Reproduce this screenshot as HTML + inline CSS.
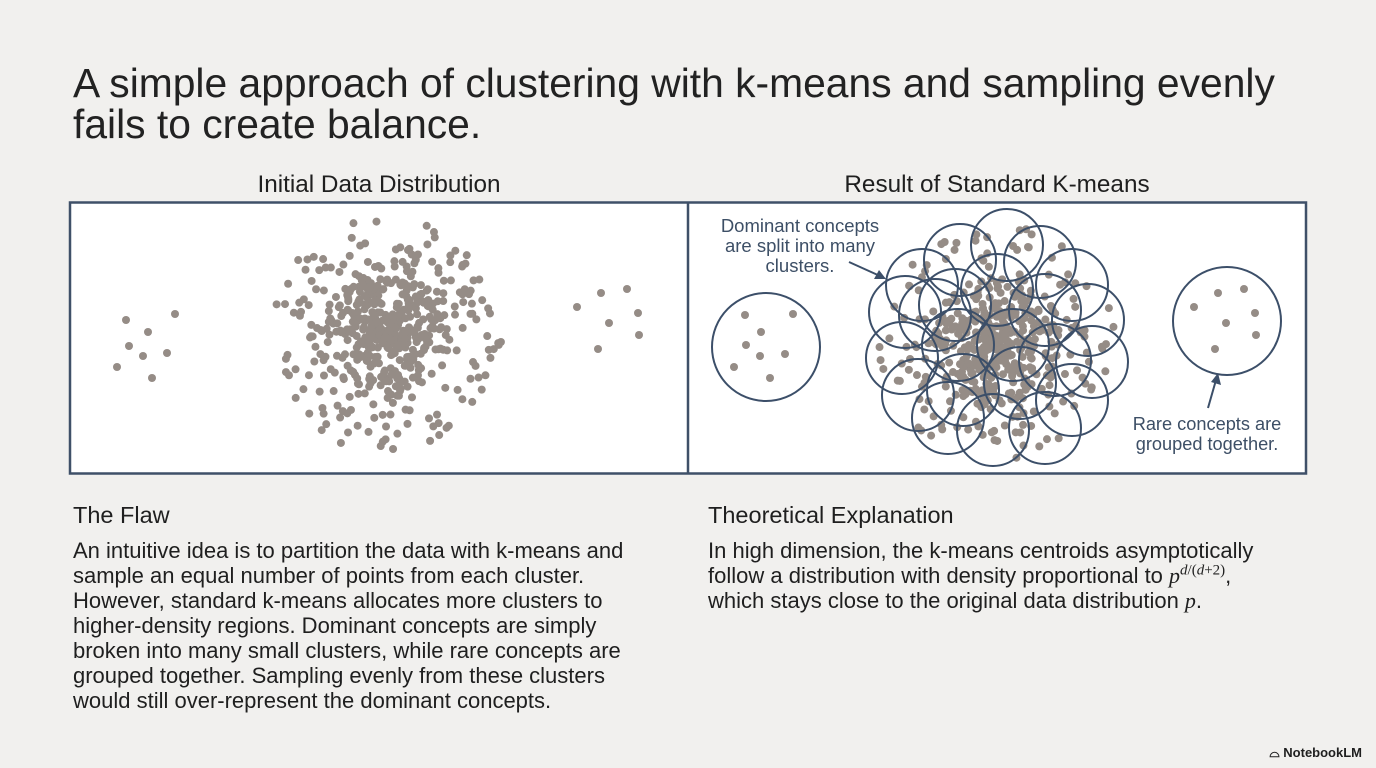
<!DOCTYPE html>
<html><head><meta charset="utf-8"><style>
body{margin:0;width:1376px;height:768px;background:#f1f0ee;font-family:"Liberation Sans",sans-serif;color:#1f1f1f;position:relative;overflow:hidden}
.t{position:absolute;white-space:nowrap}
h1{position:absolute;left:73px;top:63px;margin:0;font-weight:normal;font-size:40.8px;line-height:41px;color:#222}
.b{font-size:22px;line-height:25px}
sup{line-height:0}
</style></head><body>
<h1>A simple approach of clustering with k-means and sampling evenly<br>fails to create balance.</h1>
<div class="t" style="left:70px;width:618px;text-align:center;top:171px;font-size:24.3px">Initial Data Distribution</div>
<div class="t" style="left:688px;width:618px;text-align:center;top:171px;font-size:24.3px">Result of Standard K-means</div>
<svg id="s" style="position:absolute;left:0;top:0" width="1376" height="768">
<rect x="70" y="202.5" width="1236" height="271" fill="#fff" stroke="#3f5068" stroke-width="2.5"/>
<line x1="688" y1="202" x2="688" y2="474" stroke="#3f5068" stroke-width="2.5"/>
<g id="d" fill="#958c86"></g>
<g id="c" fill="none" stroke="#3c4f69" stroke-width="2"></g>
<text x="800" y="232" font-size="18.5" fill="#3d4f66" text-anchor="middle">Dominant concepts</text>
<text x="800" y="252" font-size="18.5" fill="#3d4f66" text-anchor="middle">are split into many</text>
<text x="800" y="272" font-size="18.5" fill="#3d4f66" text-anchor="middle">clusters.</text>
<line x1="849" y1="262" x2="880" y2="276" stroke="#3c4f69" stroke-width="2"/>
<polygon points="886,279 874,279 879,270" fill="#3c4f69"/>
<text x="1207" y="430" font-size="18.2" fill="#3d4f66" text-anchor="middle">Rare concepts are</text>
<text x="1207" y="450" font-size="18.2" fill="#3d4f66" text-anchor="middle">grouped together.</text>
<line x1="1208" y1="408" x2="1216" y2="380" stroke="#3c4f69" stroke-width="2"/>
<polygon points="1218,373 1221,385 1211,382" fill="#3c4f69"/>
</svg>
<div class="t" style="left:73px;top:502px;font-size:23.5px">The Flaw</div>
<div class="t b" style="left:73px;top:538px">An intuitive idea is to partition the data with k-means and<br>sample an equal number of points from each cluster.<br>However, standard k-means allocates more clusters to<br>higher-density regions. Dominant concepts are simply<br>broken into many small clusters, while rare concepts are<br>grouped together. Sampling evenly from these clusters<br>would still over-represent the dominant concepts.</div>
<div class="t" style="left:708px;top:502px;font-size:23.5px">Theoretical Explanation</div>
<div class="t b" style="left:708px;top:538px">In high dimension, the k-means centroids asymptotically<br>follow a distribution with density proportional to <i style="font-family:'Liberation Serif',serif">p</i><sup style="font-size:15px;font-family:'Liberation Serif',serif"><i>d</i>/(<i>d</i>+2)</sup>,<br>which stays close to the original data distribution <i style="font-family:'Liberation Serif',serif">p</i>.</div>
<div class="t" style="right:14px;top:745px;font-size:13px;font-weight:bold">⌓ NotebookLM</div>
<script>
var ns="http://www.w3.org/2000/svg",d=document.getElementById("d"),c=document.getElementById("c");
function dot(x,y,r){var e=document.createElementNS(ns,"circle");e.setAttribute("cx",x);e.setAttribute("cy",y);e.setAttribute("r",r||4);d.appendChild(e);}
function circ(x,y,r){var e=document.createElementNS(ns,"circle");e.setAttribute("cx",x);e.setAttribute("cy",y);e.setAttribute("r",r);c.appendChild(e);}
var seed=7;function rnd(){seed=(seed*16807)%2147483647;return seed/2147483647;}
function blob(cx,cy,n,R){for(var i=0;i<n;i++){var a=rnd()*6.283,r=Math.pow(rnd(),0.8)*R;if(rnd()<0.5)r*=0.55;dot(cx+r*Math.cos(a),cy+r*Math.sin(a));}}
blob(385,335,560,118);
[[126,320],[148,332],[175,314],[129,346],[143,356],[167,353],[117,367],[152,378]].forEach(p=>dot(p[0],p[1]));
[[577,307],[601,293],[627,289],[609,323],[638,313],[639,335],[598,349]].forEach(p=>dot(p[0],p[1]));
seed=11;blob(997,342,520,118);
[[745,315],[793,314],[761,332],[746,345],[760,356],[785,354],[734,367],[770,378]].forEach(p=>dot(p[0],p[1]));
[[1194,307],[1218,293],[1244,289],[1226,323],[1255,313],[1256,335],[1215,349]].forEach(p=>dot(p[0],p[1]));
circ(766,347,54);circ(1227,321,54);
[[960,260],[1007,245],[1040,262],[1072,285],[1088,320],[1092,362],[1072,400],[1045,428],[993,430],[948,418],[918,395],[902,358],[905,312],[922,285],[955,305],[997,290],[1045,310],[1013,345],[958,345],[963,390],[1020,383],[1055,360],[935,315]].forEach(p=>circ(p[0],p[1],36));
</script>
</body></html>
